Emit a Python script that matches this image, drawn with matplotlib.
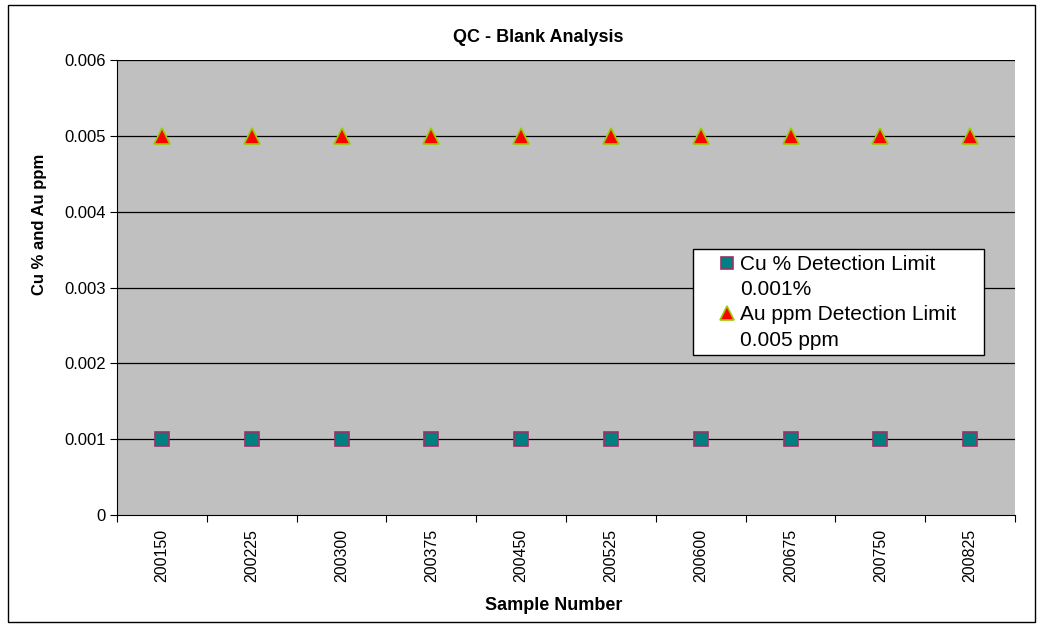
import matplotlib
matplotlib.use("Agg")
from matplotlib import pyplot as plt
from matplotlib.patches import Rectangle
from matplotlib.lines import Line2D

samples = ["200150", "200225", "200300", "200375", "200450",
           "200525", "200600", "200675", "200750", "200825"]
cu_pct = [0.001] * 10
au_ppm = [0.005] * 10
y_ticks = [0, 0.001, 0.002, 0.003, 0.004, 0.005, 0.006]
y_labels = ["0", "0.001", "0.002", "0.003", "0.004", "0.005", "0.006"]
legend_labels = ['Cu % Detection Limit', '0.001%', 'Au ppm Detection Limit', '0.005 ppm']

plt.rcParams['font.family'] = ['Liberation Sans', 'DejaVu Sans']

W, H = 1047, 627
fig = plt.figure(figsize=(W / 100, H / 100), dpi=100)
ax = fig.add_axes([117 / W, 1 - 515 / H, 898 / W, 455 / H])

# outer chart border
fig.patches.append(Rectangle((8 / W, 5 / H), 1027 / W, 617 / H,
                             transform=fig.transFigure, fill=False,
                             edgecolor='black', linewidth=1.0))

ax.set_facecolor('#c0c0c0')
x = [i + 0.5 for i in range(len(samples))]

for t in y_ticks[1:]:
    ax.axhline(t, color='black', linewidth=0.9, zorder=1)

sq = dict(linestyle='none', marker='s', markerfacecolor='#008080',
          markeredgecolor='#993366', markeredgewidth=1.2)
tri = dict(linestyle='none', marker='^', markerfacecolor='#ff0000',
           markeredgecolor='#99cc00', markeredgewidth=1.2)

ax.plot(x, cu_pct, markersize=10, zorder=3, **sq)
ax.plot(x, au_ppm, markersize=11, zorder=3, **tri)

ax.set_xlim(0, len(samples))
ax.set_ylim(0, 0.006)
ax.set_yticks(y_ticks)
ax.set_yticklabels(y_labels, fontsize=12)
ax.set_xticks(range(len(samples) + 1))
ax.set_xticklabels([])
ax.set_xticks(x, minor=True)
ax.set_xticklabels(samples, minor=True, rotation=90, fontsize=11.5)
ax.tick_params(axis='x', which='minor', length=0, pad=10)
ax.tick_params(axis='x', which='major', length=5, direction='out')
ax.tick_params(axis='y', length=5, direction='out', pad=3)

ax.spines['top'].set_visible(False)
ax.spines['right'].set_visible(False)

fig.text(538 / W, 1 - 37 / H, 'QC - Blank Analysis', fontsize=13,
         fontweight='bold', ha='center', va='center')
fig.text(554 / W, 1 - 605 / H, 'Sample Number', fontsize=13,
         fontweight='bold', ha='center', va='center')
fig.text(40 / W, 1 - 224 / H, 'Cu % and Au ppm', fontsize=12,
         fontweight='bold', ha='center', va='center', rotation=90)

# legend box drawn separately so the padding can match the original
ax.add_patch(Rectangle(((693 - 117) / 898, (515 - 355) / 455), 291 / 898, 106 / 455,
                       transform=ax.transAxes, facecolor='white',
                       edgecolor='black', linewidth=1.0, zorder=4))

# marker on first line of each entry, second line without marker
blank = Line2D([], [], linestyle='none', marker='none')
handles = [Line2D([], [], markersize=9, **sq), blank,
           Line2D([], [], markersize=10, **tri), blank]
leg = ax.legend(handles, legend_labels, loc='upper left',
                bbox_to_anchor=((719 - 117) / 898, (515 - 255) / 455),
                fontsize=15, frameon=False,
                handletextpad=0.23, handlelength=0.8, borderpad=0,
                labelspacing=0.3, borderaxespad=0)
leg.set_zorder(5)

fig.savefig('out.png', dpi=100)
